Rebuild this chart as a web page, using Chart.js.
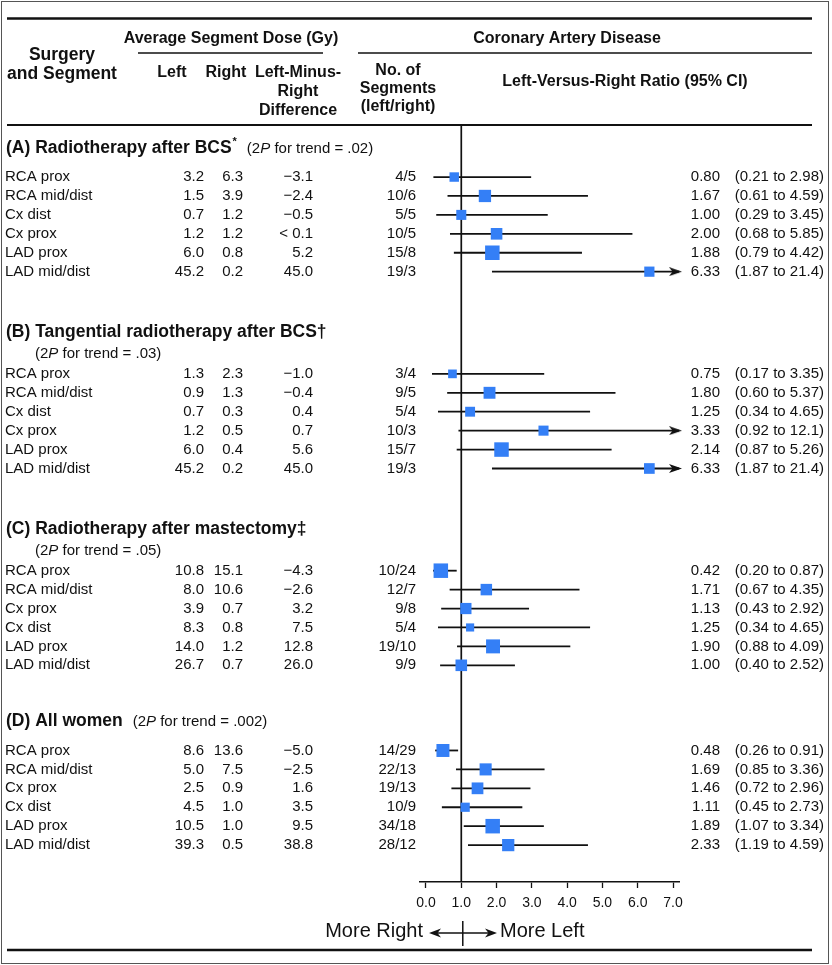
<!DOCTYPE html>
<html><head><meta charset="utf-8">
<script src="https://cdn.jsdelivr.net/npm/chart.js@4.4.1/dist/chart.umd.min.js"></script>
<style>html,body{margin:0;padding:0;background:#fff;overflow:hidden}canvas{display:block}</style>
</head><body>
<canvas id="c" width="832" height="965"></canvas>
<script>
// ---------------- DATA ----------------
const sectionTitles = ['(A) Radiotherapy after BCS', '(B) Tangential radiotherapy after BCS\u2020', '(C) Radiotherapy after mastectomy\u2021', '(D) All women'];
const sectionSupMarks = ['*', '', '', ''];
const trendP = ['.02', '.03', '.05', '.002'];
const trendOnOwnLine = [false, true, true, false];
const rowsPerSection = [6, 6, 6, 6];

const segmentNames = [
  'RCA prox','RCA mid/dist','Cx dist','Cx prox','LAD prox','LAD mid/dist',
  'RCA prox','RCA mid/dist','Cx dist','Cx prox','LAD prox','LAD mid/dist',
  'RCA prox','RCA mid/dist','Cx prox','Cx dist','LAD prox','LAD mid/dist',
  'RCA prox','RCA mid/dist','Cx prox','Cx dist','LAD prox','LAD mid/dist'];
const doseLeft = [
  '3.2','1.5','0.7','1.2','6.0','45.2',
  '1.3','0.9','0.7','1.2','6.0','45.2',
  '10.8','8.0','3.9','8.3','14.0','26.7',
  '8.6','5.0','2.5','4.5','10.5','39.3'];
const doseRight = [
  '6.3','3.9','1.2','1.2','0.8','0.2',
  '2.3','1.3','0.3','0.5','0.4','0.2',
  '15.1','10.6','0.7','0.8','1.2','0.7',
  '13.6','7.5','0.9','1.0','1.0','0.5'];
const doseDiff = [
  '\u22123.1','\u22122.4','\u22120.5','< 0.1','5.2','45.0',
  '\u22121.0','\u22120.4','0.4','0.7','5.6','45.0',
  '\u22124.3','\u22122.6','3.2','7.5','12.8','26.0',
  '\u22125.0','\u22122.5','1.6','3.5','9.5','38.8'];
const segmentCounts = [
  '4/5','10/6','5/5','10/5','15/8','19/3',
  '3/4','9/5','5/4','10/3','15/7','19/3',
  '10/24','12/7','9/8','5/4','19/10','9/9',
  '14/29','22/13','19/13','10/9','34/18','28/12'];
const ratio = [
  0.80,1.67,1.00,2.00,1.88,6.33,
  0.75,1.80,1.25,3.33,2.14,6.33,
  0.42,1.71,1.13,1.25,1.90,1.00,
  0.48,1.69,1.46,1.11,1.89,2.33];
const ciLow = [
  0.21,0.61,0.29,0.68,0.79,1.87,
  0.17,0.60,0.34,0.92,0.87,1.87,
  0.20,0.67,0.43,0.34,0.88,0.40,
  0.26,0.85,0.72,0.45,1.07,1.19];
const ciHigh = [
  2.98,4.59,3.45,5.85,4.42,21.4,
  3.35,5.37,4.65,12.1,5.26,21.4,
  0.87,4.35,2.92,4.65,4.09,2.52,
  0.91,3.36,2.96,2.73,3.34,4.59];
const tickValues = [0,1,2,3,4,5,6,7];
const tickLabels = ['0.0','1.0','2.0','3.0','4.0','5.0','6.0','7.0'];

// ---------------- LAYOUT ----------------
const FONT = '"Liberation Sans", Arial, Helvetica, sans-serif';
const INK = '#111';
const BLUE = '#347ff6';
const X_MIN = -0.17, X_MAX = 7.17;
const Y_MAX = 40;

// row positions (in row units) computed from the section structure
const headerPos = [], subPos = [], rowPos = [], rowSection = [];
{
  let last = null;
  for (let s = 0; s < sectionTitles.length; s++) {
    const h = (last === null) ? 1.2 : last + (trendOnOwnLine[s] ? 3.2 : 2.95);
    headerPos.push(h);
    let first;
    if (trendOnOwnLine[s]) { subPos.push(h + 1.15); first = h + 2.2; }
    else { subPos.push(null); first = h + 1.55; }
    for (let k = 0; k < rowsPerSection[s]; k++) { rowPos.push(first + k); rowSection.push(s); }
    last = first + rowsPerSection[s] - 1;
  }
}

// square size ~ sqrt(inverse variance of log ratio), scaled within each section
const weights = segmentCounts.map(c => { const [a, b] = c.split('/').map(Number); return 1 / (1 / a + 1 / b); });
const maxW = sectionTitles.map((_, s) => Math.max(...weights.filter((w, i) => rowSection[i] === s)));
const squareRadius = weights.map((w, i) => 14.5 * Math.sqrt(w / maxW[rowSection[i]]) / Math.SQRT2);

function fmt(v) { return v >= 10 ? v.toFixed(1) : v.toFixed(2); }

function makeArrow() {
  const c = document.createElement('canvas'); c.width = 13; c.height = 9;
  const g = c.getContext('2d'); g.fillStyle = INK;
  g.beginPath(); g.moveTo(13, 4.5); g.lineTo(0, 0); g.lineTo(3.5, 4.5); g.lineTo(0, 9); g.closePath(); g.fill();
  return c;
}
const arrowImg = makeArrow();

// ---------------- DATASETS ----------------
const datasets = [];
datasets.push({
  label: 'ratio', order: 0,
  data: ratio.map((r, i) => ({ x: r, y: rowPos[i] })),
  pointStyle: 'rect', pointRadius: squareRadius, pointHoverRadius: squareRadius,
  backgroundColor: BLUE, borderWidth: 0, pointBorderWidth: 0
});
ratio.forEach((r, i) => {
  datasets.push({
    label: 'ci' + i, order: 1, showLine: true,
    data: [{ x: ciLow[i], y: rowPos[i] }, { x: Math.min(ciHigh[i], X_MAX), y: rowPos[i] }],
    borderColor: INK, borderWidth: 1.8, pointRadius: 0, pointHoverRadius: 0, tension: 0
  });
});
const arrowRows = ciHigh.map((h, i) => h > X_MAX ? i : -1).filter(i => i >= 0);
datasets.push({
  label: 'arrows', order: 1, clip: false,
  data: arrowRows.map(i => ({ x: X_MAX - 0.1, y: rowPos[i] })),
  pointStyle: arrowImg, pointRadius: 6, pointHoverRadius: 6
});
datasets.push({
  label: 'ref', order: 2, showLine: true,
  data: [{ x: 1, y: 0 }, { x: 1, y: Y_MAX }],
  borderColor: INK, borderWidth: 1.7, pointRadius: 0, pointHoverRadius: 0
});

// ---------------- PLUGINS ----------------
function txt(ctx, s, x, y, o) {
  o = o || {};
  ctx.font = `${o.style || 'normal'} ${o.weight || 'normal'} ${o.size || 15}px ${FONT}`;
  ctx.textAlign = o.align || 'left';
  ctx.textBaseline = 'middle';
  ctx.fillStyle = INK;
  ctx.fillText(s, x, y);
  return ctx.measureText(s).width;
}
function hline(ctx, x1, x2, y, w) {
  ctx.beginPath(); ctx.lineWidth = w; ctx.strokeStyle = INK; ctx.moveTo(x1, y); ctx.lineTo(x2, y); ctx.stroke();
}
function trendText(ctx, x, y, p) {
  let cx = x;
  cx += txt(ctx, '(2', cx, y);
  cx += txt(ctx, 'P', cx, y, { style: 'italic' });
  txt(ctx, ' for trend = ' + p + ')', cx, y);
}
function arrowHead(ctx, tipX, y, dir) {
  ctx.beginPath(); ctx.fillStyle = INK;
  ctx.moveTo(tipX, y); ctx.lineTo(tipX - dir * 12, y - 4.5); ctx.lineTo(tipX - dir * 8.5, y); ctx.lineTo(tipX - dir * 12, y + 4.5);
  ctx.closePath(); ctx.fill();
}

const bgPlugin = {
  id: 'bg',
  beforeDraw(chart) { const c = chart.ctx; c.save(); c.fillStyle = '#fff'; c.fillRect(0, 0, chart.width, chart.height); c.restore(); }
};

const tablePlugin = {
  id: 'table',
  afterDraw(chart) {
    const ctx = chart.ctx, ys = chart.scales.y, xs = chart.scales.x;
    ctx.save();
    // frame
    ctx.strokeStyle = '#555'; ctx.lineWidth = 1; ctx.strokeRect(1.5, 1.5, 827, 962);
    // rules
    hline(ctx, 7, 812, 18.5, 2.6);
    hline(ctx, 138, 323, 53, 1.4);
    hline(ctx, 358, 812, 53, 1.4);
    hline(ctx, 7, 812, chart.chartArea.top, 2.2);
    hline(ctx, 7, 812, 950, 2.6);

    // column headers
    const hb = { weight: 'bold', size: 16, align: 'center' };
    txt(ctx, 'Average Segment Dose (Gy)', 231, 39, hb);
    txt(ctx, 'Coronary Artery Disease', 567, 39, hb);
    txt(ctx, 'Surgery', 62, 55, { weight: 'bold', size: 17.5, align: 'center' });
    txt(ctx, 'and Segment', 62, 74, { weight: 'bold', size: 17.5, align: 'center' });
    txt(ctx, 'Left', 172, 73, hb);
    txt(ctx, 'Right', 226, 73, hb);
    txt(ctx, 'Left-Minus-', 298, 73, hb);
    txt(ctx, 'Right', 298, 92, hb);
    txt(ctx, 'Difference', 298, 111, hb);
    txt(ctx, 'No. of', 398, 71, hb);
    txt(ctx, 'Segments', 398, 89, hb);
    txt(ctx, '(left/right)', 398, 107, hb);
    txt(ctx, 'Left-Versus-Right Ratio (95% CI)', 625, 82, hb);

    // section headers
    sectionTitles.forEach((t, s) => {
      const y = ys.getPixelForValue(headerPos[s]);
      const w = txt(ctx, t, 6, y, { weight: 'bold', size: 17.5 });
      let x = 6 + w;
      if (sectionSupMarks[s]) {
        x += 1 + txt(ctx, sectionSupMarks[s], x + 1, y - 6, { weight: 'bold', size: 11 });
      }
      if (trendOnOwnLine[s]) trendText(ctx, 35, ys.getPixelForValue(subPos[s]), trendP[s]);
      else trendText(ctx, x + 10, y + 1, trendP[s]);
    });

    // rows
    segmentNames.forEach((n, i) => {
      const y = ys.getPixelForValue(rowPos[i]);
      txt(ctx, n, 5, y);
      txt(ctx, doseLeft[i], 204, y, { align: 'right' });
      txt(ctx, doseRight[i], 243, y, { align: 'right' });
      txt(ctx, doseDiff[i], 313, y, { align: 'right' });
      txt(ctx, segmentCounts[i], 416, y, { align: 'right' });
      txt(ctx, ratio[i].toFixed(2), 720, y, { align: 'right' });
      txt(ctx, '(' + fmt(ciLow[i]) + ' to ' + fmt(ciHigh[i]) + ')', 824, y, { align: 'right' });
    });

    // direction annotation
    const x1 = xs.getPixelForValue(1);
    const ay = 933;
    txt(ctx, 'More Right', 423, 931, { size: 20, align: 'right' });
    txt(ctx, 'More Left', 500, 931, { size: 20 });
    hline(ctx, 432, 494, ay, 1.5);
    arrowHead(ctx, 429, ay, -1);
    arrowHead(ctx, 497, ay, 1);
    ctx.beginPath(); ctx.lineWidth = 1.5; ctx.strokeStyle = INK;
    ctx.moveTo(x1 + 1.5, 921); ctx.lineTo(x1 + 1.5, 946); ctx.stroke();
    ctx.restore();
  }
};

// ---------------- CHART ----------------
new Chart(document.getElementById('c'), {
  type: 'scatter',
  data: { datasets },
  options: {
    responsive: false, animation: false, events: [],
    layout: { padding: { left: 420, right: 153, top: 125, bottom: 50 } },
    plugins: { legend: { display: false }, tooltip: { enabled: false } },
    scales: {
      x: {
        type: 'linear', min: X_MIN, max: X_MAX, position: 'bottom',
        afterBuildTicks: s => { s.ticks = tickValues.map(v => ({ value: v })); },
        afterFit: s => { s.height = 33; },
        ticks: { autoSkip: false, maxRotation: 0, padding: 7, color: INK, font: { family: FONT, size: 14 },
                 callback: (v, i) => tickLabels[i] },
        grid: { drawOnChartArea: false, drawTicks: true, tickLength: 6, tickColor: INK, tickWidth: 1.3 },
        border: { display: true, color: INK, width: 1.6 }
      },
      y: { type: 'linear', min: 0, max: Y_MAX, reverse: true, display: false }
    }
  },
  plugins: [bgPlugin, tablePlugin]
});
</script>
</body></html>
